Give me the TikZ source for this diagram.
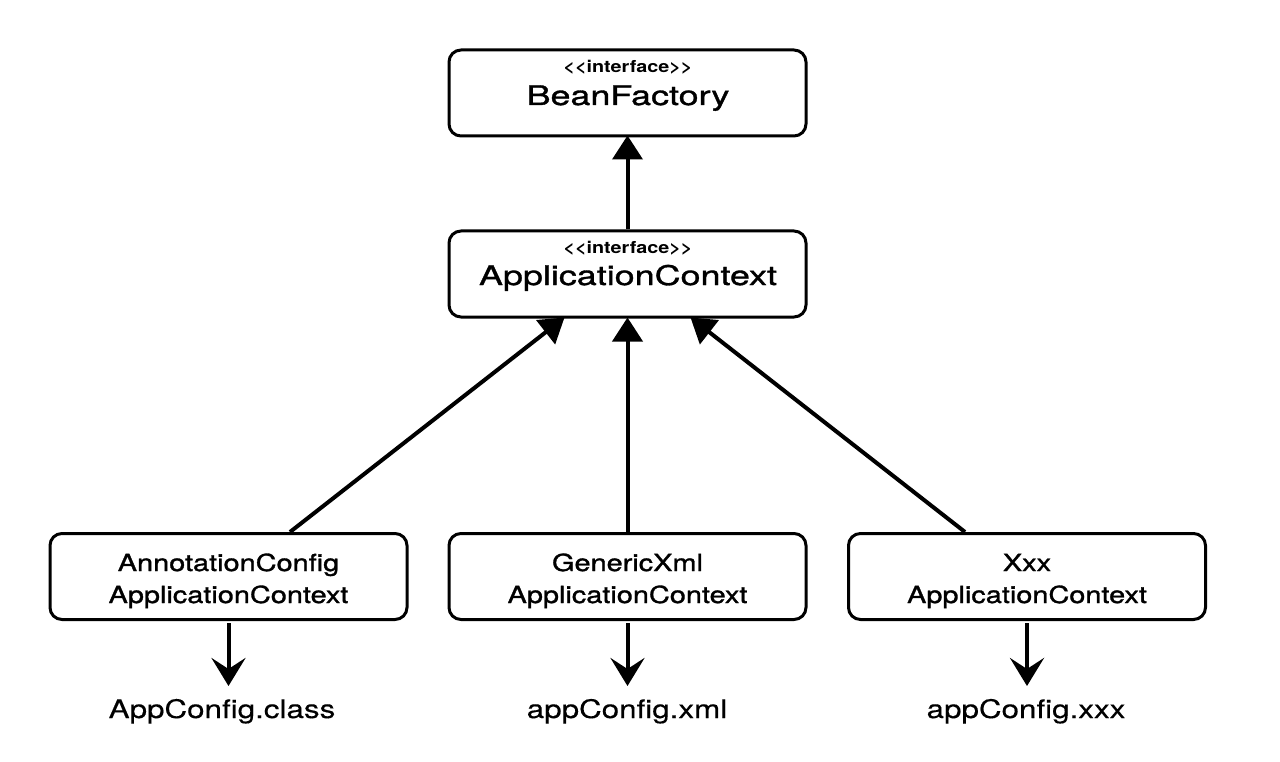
\documentclass[tikz,border=0pt]{standalone}
\usepackage{fontspec}
\setmainfont{TeX Gyre Heros}
\newfontfamily\ifacefont[FakeStretch=1.2]{TeX Gyre Heros Bold}
\newfontfamily\titlefont[FakeBold=1.2,FakeStretch=1.33]{TeX Gyre Heros}
\newfontfamily\boxfont[FakeBold=1.3,FakeStretch=1.23]{TeX Gyre Heros}
\newfontfamily\lblfont[FakeBold=0.3,FakeStretch=1.23]{TeX Gyre Heros}
\usetikzlibrary{arrows.meta}
\begin{document}
\begin{tikzpicture}[x=1pt,y=-1pt,
  box/.style={draw=black,line width=3pt,rounded corners=12pt,minimum width=357pt,minimum height=86pt,inner sep=0pt,fill=white},
  iface/.style={anchor=base,inner sep=0pt,font=\ifacefont\fontsize{16.5}{16.5}\selectfont},
  title/.style={anchor=base,inner sep=0pt,font=\titlefont\fontsize{27}{30}\selectfont},
  btext/.style={anchor=base,inner sep=0pt,font=\boxfont\fontsize{23.5}{28}\selectfont},
  lbl/.style={anchor=base,inner sep=0pt,font=\lblfont\fontsize{25.5}{30}\selectfont},
  upline/.style={line width=4pt,-{Triangle[width=30pt,length=24pt]}},
  downline/.style={line width=4pt,-{Stealth[width=34pt,length=28pt,inset=11pt]}}
]
\useasboundingbox (0,0) rectangle (1280,762);
\fill[white] (0,0) rectangle (1280,762);
% boxes
\node[box] (bf) at (627.5,93) {};
\node[box] (ac) at (627.5,274) {};
\node[box] (l) at (228.5,576.5) {};
\node[box] (m) at (627.5,576.5) {};
\node[box] (r) at (1027,576.5) {};
% texts
\node[iface] (bfi) at (628,73) {<\kern0pt<interface>\kern0pt>};
\node[title] (bft) at (628,105) {BeanFactory};
\node[iface] (aci) at (628,254) {<\kern0pt<interface>\kern0pt>};
\node[title] (act) at (628,285) {ApplicationContext};
\node[btext] (l1) at (228.5,571) {AnnotationConfig};
\node[btext] (l2) at (228.5,603) {ApplicationContext};
\node[btext] (m1) at (627.5,571) {GenericXml};
\node[btext] (m2) at (627.5,603) {ApplicationContext};
\node[btext] (r1) at (1027,571) {Xxx};
\node[btext] (r2) at (1027,603) {ApplicationContext};
\node[lbl] (lc) at (222,718) {AppConfig.class};
\node[lbl] (mc) at (627,718) {appConfig.xml};
\node[lbl] (rc) at (1026,718) {appConfig.xxx};
% connectors
\draw[upline] (ac.north) -- ([yshift=2pt]bf.south);
\draw[upline] ([xshift=61.5pt]l.north) -- ([xshift=-63pt,yshift=1pt]ac.south);
\draw[upline] (m.north) -- ([yshift=1pt]ac.south);
\draw[upline] ([xshift=-62pt]r.north) -- ([xshift=63pt,yshift=1pt]ac.south);
\draw[downline] ([yshift=-2pt]l.south) -- ([yshift=-65pt]l.south);
\draw[downline] ([yshift=-2pt]m.south) -- ([yshift=-65pt]m.south);
\draw[downline] ([yshift=-2pt]r.south) -- ([yshift=-65pt]r.south);
\end{tikzpicture}
\end{document}
